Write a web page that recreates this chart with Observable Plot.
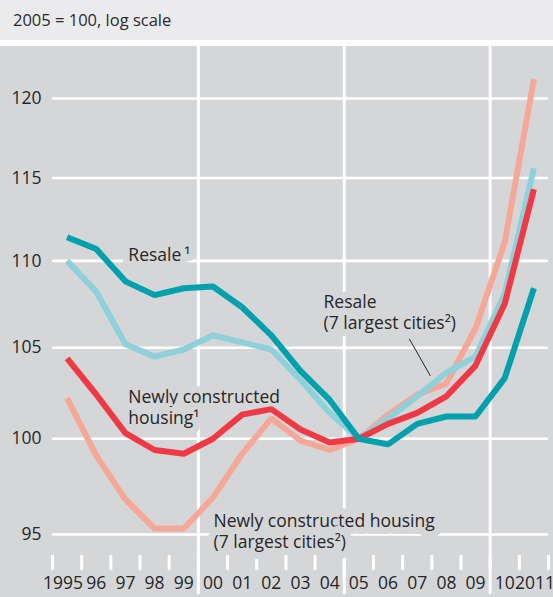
<!DOCTYPE html>
<html><head><meta charset="utf-8">
<script src="https://cdn.jsdelivr.net/npm/d3@7"></script>
<script src="https://cdn.jsdelivr.net/npm/@observablehq/plot@0.6"></script>
<style>
html,body{margin:0;padding:0;background:#fff;}
#head{height:40px;background:#ebebed;font:16.5px "Open Sans",sans-serif;color:#2a2a2a;padding-left:13px;line-height:40px;box-sizing:border-box}
#gap{height:6px;background:#fff}
#chart svg{display:block;background:#d5d6d8}
</style></head><body>
<div id="head">2005 = 100, log scale</div><div id="gap"></div><div id="chart"></div>
<script>
const years = [1995,1996,1997,1998,1999,2000,2001,2002,2003,2004,2005,2006,2007,2008,2009,2010,2011];
const xLabels = ["1995","96","97","98","99","00","01","02","03","04","05","06","07","08","09","10","2011"];
const yTicks = [95,100,105,110,115,120];
const yearBounds = [1995,1996,1997,1998,1999,2000,2001,2002,2003,2004,2005,2006,2007,2008,2009,2010,2011,2012];
const majorBounds = [2000,2005,2010];

const resale    = [111.4,110.7,108.8,108.0,108.4,108.5,107.3,105.7,103.7,102.1,100,99.7,100.8,101.2,101.2,103.3,108.4];
const resale7   = [110.0,108.2,105.2,104.5,104.9,105.7,105.3,104.9,103.2,101.4,100,101.1,102.3,103.6,104.5,108.1,115.6];
const newly     = [104.4,102.4,100.3,99.4,99.2,100.0,101.3,101.6,100.5,99.8,100,100.8,101.4,102.3,104.0,107.5,114.3];
const newly7    = [102.2,99.1,96.8,95.3,95.3,96.9,99.2,101.1,99.9,99.4,100,101.3,102.4,103.0,106.1,111.1,121.25];

const seriesNames  = ["newly7","resale7","newly","resale"];
const seriesValues = [newly7, resale7, newly, resale];
const seriesColors = ["#f6a898","#8fd1db","#ef3a46","#00a0ac"];

const labelTexts = ["Resale\u2009¹", "Resale\n(7 largest cities²)", "Newly constructed\nhousing¹", "Newly constructed housing\n(7 largest cities²)"];
const labelX = [1997.6, 2004.29, 1997.6, 2000.52];
const labelY = [110.4, 107.04, 101.73, 95.19];

const leaderX1 = [2007.23], leaderY1 = [105.5], leaderX2 = [2007.95], leaderY2 = [103.43];

const bg = "#d5d6d8";
const ink = "#262626";

const rows = [];
seriesNames.forEach((s, k) => years.forEach((yr, i) => rows.push({series: s, x: yr + 0.5, v: seriesValues[k][i]})));
const labels = labelTexts.map((t, i) => ({t, x: labelX[i], y: labelY[i]}));
const leaders = leaderX1.map((d, i) => ({x1: d, y1: leaderY1[i], x2: leaderX2[i], y2: leaderY2[i]}));
const xl = years.map((d, i) => ({x: d + 0.5, t: xLabels[i]}));

const chart = Plot.plot({
  width: 553, height: 551,
  marginLeft: 52, marginRight: 5, marginTop: 52, marginBottom: 63,
  style: {background: bg, fontFamily: "'Open Sans', sans-serif", fontSize: "17.5px", color: ink, overflow: "visible"},
  x: {domain: [1995, 2012]},
  y: {type: "log", domain: [95, 120]},
  marks: [
    Plot.ruleY(yTicks, {stroke: "white", strokeWidth: 2.6}),
    Plot.ruleX(majorBounds, {stroke: "white", strokeWidth: 3, insetTop: -52, insetBottom: -60}),
    Plot.axisX({ticks: yearBounds, tickSize: 15, dy: 21, text: null, stroke: "white", strokeWidth: 3, label: null}),
    Plot.axisY({ticks: yTicks, tickSize: 0, tickPadding: 11, label: null, tickFormat: d => String(d), fill: ink, fontSize: 17.5}),
    Plot.text(xl.slice(0, 1), {x: "x", text: "t", frameAnchor: "bottom", dy: 54, dx: -4, fill: ink, fontSize: 17.5}),
    Plot.text(xl.slice(1, -1), {x: "x", text: "t", frameAnchor: "bottom", dy: 54, fill: ink, fontSize: 17.5}),
    Plot.text(xl.slice(-1), {x: "x", text: "t", frameAnchor: "bottom", dy: 54, dx: 1, fill: ink, fontSize: 17.5}),
    Plot.text(labels, {x: "x", y: "y", text: "t", textAnchor: "start", lineHeight: 1.22, fill: ink, fontSize: 17.5,
      stroke: bg, strokeWidth: 14, strokeLinejoin: "round"}),
    Plot.link(leaders, {x1: "x1", y1: "y1", x2: "x2", y2: "y2", stroke: ink, strokeWidth: 1}),
    Plot.line(rows, {x: "x", y: "v", z: "series", stroke: "series", strokeWidth: 6, strokeLinecap: "butt", strokeLinejoin: "miter"})
  ],
  color: {domain: seriesNames, range: seriesColors}
});
document.getElementById("chart").appendChild(chart);
</script>
</body></html>
